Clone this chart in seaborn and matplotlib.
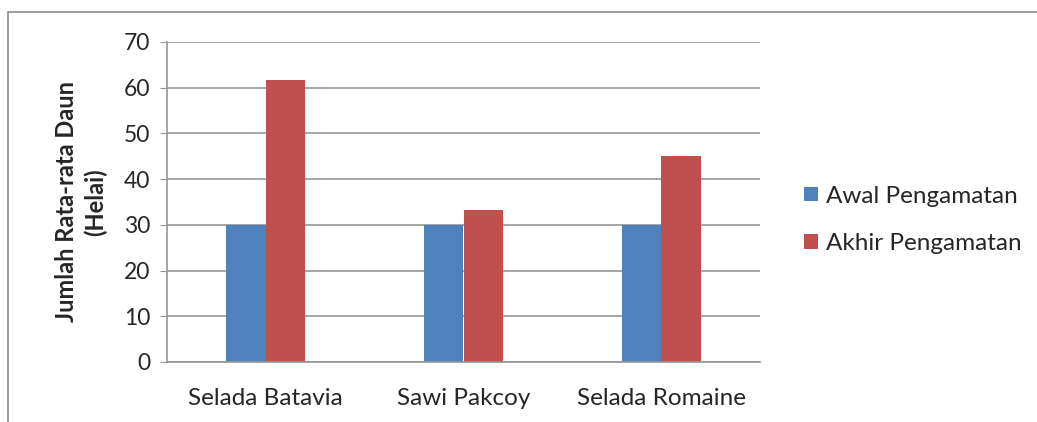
import matplotlib
matplotlib.use("Agg")
import matplotlib.pyplot as plt
import seaborn as sns
import pandas as pd
from matplotlib.patches import Patch
from matplotlib.lines import Line2D

# data
categories = ["Selada Batavia", "Sawi Pakcoy", "Selada Romaine"]
awal = [30, 30, 30]
akhir = [61.7, 33.3, 45]
series = ["Awal Pengamatan", "Akhir Pengamatan"]
colors = ["#4F81BD", "#C0504D"]

df = pd.DataFrame({
    "kategori": categories * 2,
    "seri": [series[0]] * 3 + [series[1]] * 3,
    "nilai": awal + akhir,
})

sns.set_style("white")
plt.rcParams["font.family"] = ["Lato", "DejaVu Sans"]

fig = plt.figure(figsize=(10.37, 4.22), dpi=100)
ax = fig.add_axes([167 / 1037, 1 - 362 / 422, (760 - 167) / 1037, (362 - 42) / 422])

sns.barplot(data=df, x="kategori", y="nilai", hue="seri", palette=colors,
            width=0.4, gap=0, ax=ax, legend=False, saturation=1,
            edgecolor="none", linewidth=0)

ax.set_ylim(0, 70)
ax.set_yticks(range(0, 71, 10))
ax.set_xlim(-0.5, 2.5)
ax.yaxis.grid(True, color="#969696", linewidth=1.2)
ax.set_axisbelow(True)
for s in ["top", "right"]:
    ax.spines[s].set_visible(False)
ax.spines["left"].set_color("#969696")
ax.spines["bottom"].set_color("#969696")
ax.spines["left"].set_linewidth(1.2)
ax.spines["bottom"].set_linewidth(1.2)
ax.tick_params(axis="y", left=True, length=5, color="#969696", labelsize=16.5, pad=7)
ax.tick_params(axis="x", bottom=False, labelsize=17.5, pad=15)
ax.set_xlabel("")
ax.set_ylabel("Jumlah Rata-rata Daun\n(Helai)", fontsize=17, fontweight="bold",
              labelpad=12, linespacing=1.3)

handles = [Patch(facecolor=c, edgecolor="none") for c in colors]
fig.legend(handles, series, loc="center left", bbox_to_anchor=(792 / 1037, 1 - 220 / 422),
           frameon=False, fontsize=17.5, handlelength=0.55, handleheight=0.55,
           handletextpad=0.35, labelspacing=1.1, borderpad=0)

# chart frame (left and top edges visible)
fig.add_artist(Line2D([8 / 1037, 8 / 1037], [0, 1 - 12 / 422], transform=fig.transFigure,
                      color="#8c8c8c", linewidth=1.2))
fig.add_artist(Line2D([8 / 1037, 1], [1 - 12 / 422, 1 - 12 / 422], transform=fig.transFigure,
                      color="#8c8c8c", linewidth=1.2))

fig.savefig("out.png", dpi=100)
